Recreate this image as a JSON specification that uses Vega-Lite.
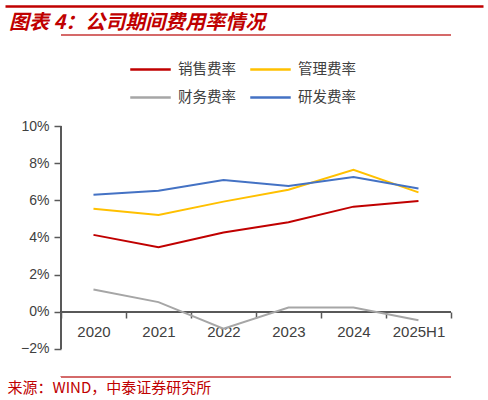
{
  "$schema": "https://vega.github.io/schema/vega-lite/v6.json",
  "autosize": "none",
  "width": 478,
  "height": 371,
  "padding": {"left": 5, "top": 6, "right": 5, "bottom": 23},
  "background": "white",
  "title": {
    "text": "图表 4：公司期间费用率情况",
    "anchor": "start",
    "frame": "group",
    "offset": -27,
    "dx": 4,
    "font": "Noto Sans CJK SC",
    "fontSize": 20,
    "fontWeight": "bold",
    "fontStyle": "italic",
    "color": "#C00000"
  },
  "config": {
    "view": {"stroke": null},
    "font": "Noto Sans CJK SC"
  },
  "data": {
    "values": [
      {"year": "2020", "series": "销售费率", "value": 4.14},
      {"year": "2021", "series": "销售费率", "value": 3.48},
      {"year": "2022", "series": "销售费率", "value": 4.27},
      {"year": "2023", "series": "销售费率", "value": 4.82},
      {"year": "2024", "series": "销售费率", "value": 5.66},
      {"year": "2025H1", "series": "销售费率", "value": 5.96},
      {"year": "2020", "series": "管理费率", "value": 5.55},
      {"year": "2021", "series": "管理费率", "value": 5.21},
      {"year": "2022", "series": "管理费率", "value": 5.93},
      {"year": "2023", "series": "管理费率", "value": 6.57},
      {"year": "2024", "series": "管理费率", "value": 7.64},
      {"year": "2025H1", "series": "管理费率", "value": 6.43},
      {"year": "2020", "series": "财务费率", "value": 1.2},
      {"year": "2021", "series": "财务费率", "value": 0.52},
      {"year": "2022", "series": "财务费率", "value": -0.91},
      {"year": "2023", "series": "财务费率", "value": 0.23},
      {"year": "2024", "series": "财务费率", "value": 0.23},
      {"year": "2025H1", "series": "财务费率", "value": -0.45},
      {"year": "2020", "series": "研发费率", "value": 6.3},
      {"year": "2021", "series": "研发费率", "value": 6.52},
      {"year": "2022", "series": "研发费率", "value": 7.09},
      {"year": "2023", "series": "研发费率", "value": 6.77},
      {"year": "2024", "series": "研发费率", "value": 7.25},
      {"year": "2025H1", "series": "研发费率", "value": 6.64}
    ]
  },
  "resolve": {"axis": {"x": "independent", "y": "independent"}},
  "layer": [
    {
      "mark": {"type": "rule", "color": "#595959", "strokeWidth": 1.5},
      "encoding": {
        "x": {
          "datum": "2020",
          "type": "nominal",
          "bandPosition": 0,
          "axis": {
            "orient": "top",
            "offset": 0,
            "domain": true,
            "domainColor": "#C00000",
            "domainWidth": 2.5,
            "ticks": false,
            "labels": false,
            "grid": false,
            "title": null
          }
        },
        "y": {"datum": -2, "type": "quantitative", "axis": null},
        "y2": {"datum": 10}
      }
    },
    {
      "mark": {"type": "rule", "color": "#595959", "strokeWidth": 1.5},
      "encoding": {
        "x": {"datum": "2020", "type": "nominal", "bandPosition": 0, "axis": null},
        "x2": {"datum": "2025H1", "bandPosition": 1},
        "y": {"datum": 0, "type": "quantitative", "axis": null}
      }
    },
    {
      "mark": {"type": "rule", "color": "#D46A6A", "strokeWidth": 1.5},
      "encoding": {
        "x": {"datum": "2020", "type": "nominal", "bandPosition": 0, "axis": null},
        "x2": {"datum": "2025H1", "bandPosition": 1},
        "y": {"datum": 14.9, "type": "quantitative", "axis": null}
      }
    },
    {
      "mark": {"type": "rule", "color": "#D46A6A", "strokeWidth": 1.5},
      "encoding": {
        "x": {"datum": "2020", "type": "nominal", "bandPosition": 0, "axis": null},
        "x2": {"datum": "2025H1", "bandPosition": 1},
        "y": {"datum": -3.49, "type": "quantitative", "axis": null}
      }
    },
    {
      "mark": {"type": "line", "strokeWidth": 2},
      "encoding": {
        "x": {
          "field": "year",
          "type": "nominal",
          "sort": null,
          "scale": {
            "domain": ["2020", "2021", "2022", "2023", "2024", "2025H1"],
            "paddingInner": 0,
            "paddingOuter": 0.677,
            "align": 0.636
          },
          "axis": {
            "orient": "bottom",
            "offset": -65,
            "domain": false,
            "tickBand": "extent",
            "tickSize": 6,
            "tickColor": "#595959",
            "tickWidth": 1.5,
            "labelAngle": 0,
            "labelFont": "Liberation Sans",
            "labelFontSize": 15,
            "labelColor": "#404040",
            "labelPadding": 6,
            "title": "来源：WIND，中泰证券研究所",
            "titleX": 2,
            "titleY": 75,
            "titleAlign": "left",
            "titleBaseline": "middle",
            "titleFontSize": 15,
            "titleFontWeight": "normal",
            "titleColor": "#C00000"
          }
        },
        "y": {
          "field": "value",
          "type": "quantitative",
          "scale": {"domain": [-3.51, 16.46], "nice": false, "zero": false},
          "axis": {
            "orient": "left",
            "offset": -56,
            "values": [-2, 0, 2, 4, 6, 8, 10],
            "labelExpr": "(datum.value < 0 ? '−' + abs(datum.value) : datum.value) + '%'",
            "domain": false,
            "grid": false,
            "tickSize": 7,
            "tickColor": "#595959",
            "tickWidth": 1.5,
            "labelFont": "Liberation Sans",
            "labelFontSize": 14,
            "labelColor": "#404040",
            "labelPadding": 5,
            "title": null
          }
        },
        "color": {
          "field": "series",
          "type": "nominal",
          "sort": ["销售费率", "管理费率", "财务费率", "研发费率"],
          "scale": {
            "domain": ["销售费率", "管理费率", "财务费率", "研发费率"],
            "range": ["#C00000", "#FFC000", "#A6A6A6", "#4472C4"]
          },
          "legend": {
            "orient": "none",
            "direction": "horizontal",
            "legendX": 124,
            "legendY": 42,
            "title": null,
            "columns": 2,
            "symbolType": "stroke",
            "symbolSize": 1640,
            "symbolStrokeWidth": 2.5,
            "labelFontSize": 14.5,
            "labelColor": "#404040",
            "labelOffset": 6,
            "columnPadding": 9,
            "rowPadding": -22
          }
        }
      }
    }
  ]
}
